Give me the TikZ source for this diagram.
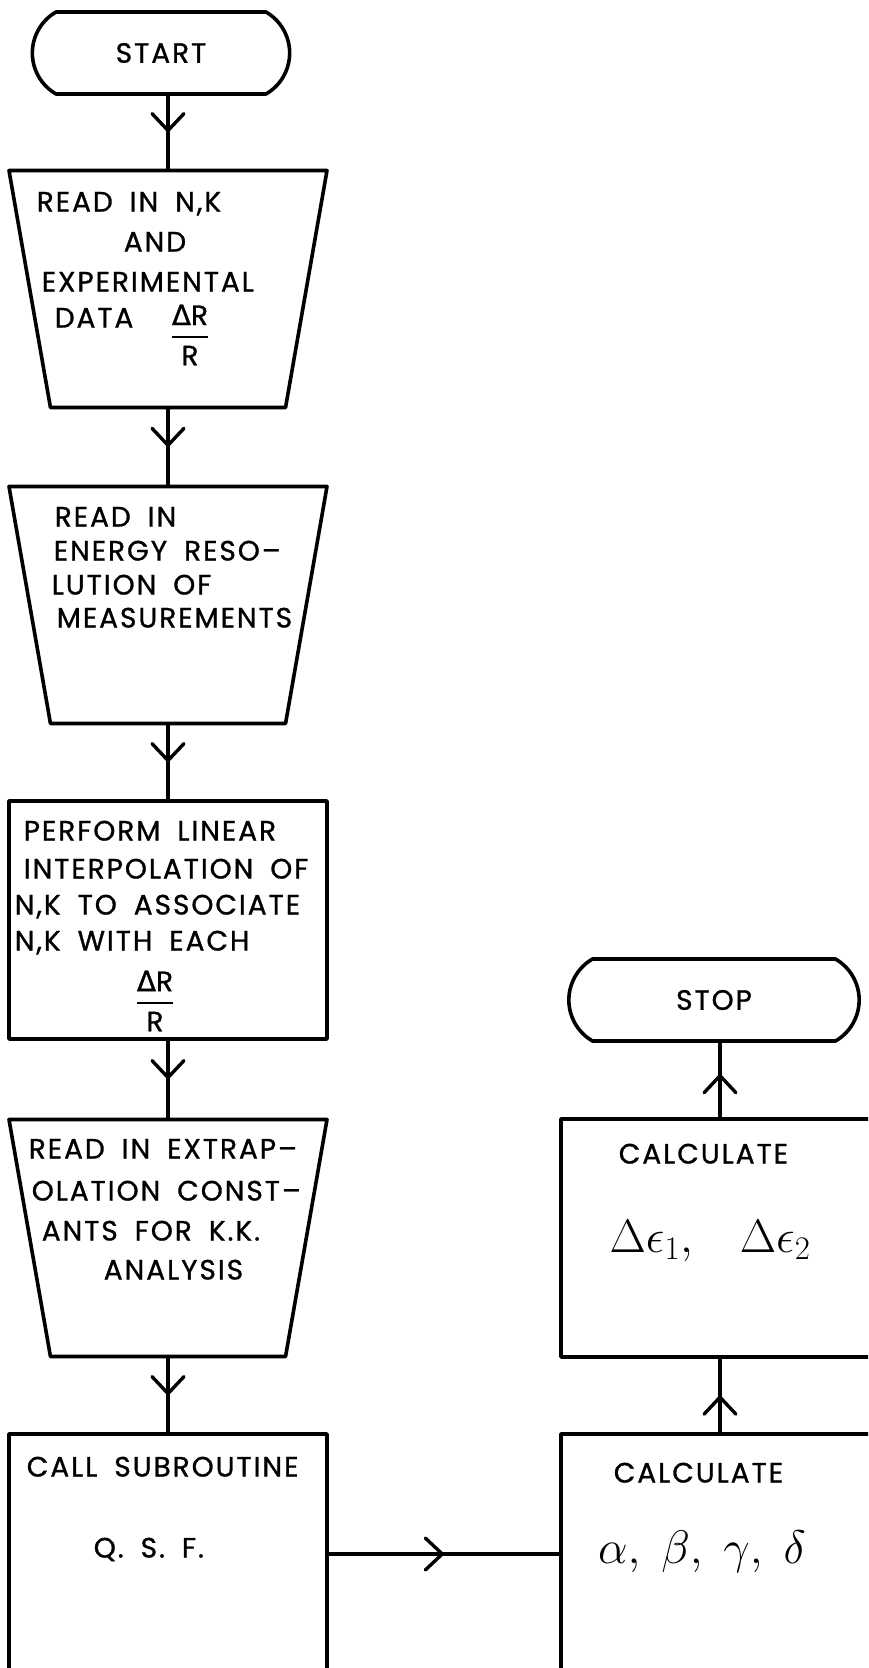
\RequirePackage{fix-cm}
\documentclass[tikz,border=0pt]{standalone}
\usepackage{amsmath}
\usepackage{fontspec}
\setmainfont{Poppins}
\newfontfamily\lettering[LetterSpace=7,WordSpace=1.8,FakeBold=1]{Poppins}
\newfontfamily\deltafont[FakeBold=1]{DejaVu Sans}
\usetikzlibrary{shapes.geometric,shapes.misc,decorations.markings,arrows.meta}
\newcommand{\fracdr}{\ensuremath{\genfrac{}{}{2.5pt}{0}{\mbox{\deltafont Δ\lettering R}}{\mbox{\lettering R}}}}
\begin{document}
\begin{tikzpicture}[x=1pt,y=-1pt,line width=3.6pt,line join=round,
    box/.style={draw,line width=3.6pt,rectangle,minimum width=318pt,minimum height=238pt,inner sep=0pt},
    trap/.style={draw,line width=3.6pt,trapezium,shape border rotate=180,trapezium left angle=80,trapezium right angle=80,
        trapezium stretches=true,minimum width=318pt,minimum height=237pt,inner sep=2pt},
    term/.style={draw,line width=3.6pt,rounded rectangle,rounded rectangle arc length=120,minimum height=82pt,
        font=\lettering\fontsize{28}{32}\selectfont},
    txt/.style={anchor=west,inner sep=0pt,text height=19pt,text depth=0pt,font=\lettering\fontsize{28}{32}\selectfont},
    greek/.style={inner sep=0pt,font=\fontsize{47}{52}\selectfont},
    flow/.style={line width=3.2pt,decoration={markings,mark=at position #1 with {\arrow{Straight Barb[length=17pt,width=32pt,line width=3.4pt,round]}}},
        postaction={decorate}},
    flow/.default=0.5]
    \path[use as bounding box] (0,0) rectangle (868,1668);
    \clip (0,0) rectangle (868,1668);
    \node[term,minimum width=264pt] (start) at (161,53) {START};
    \node[trap] (t1) at (168,289) {};
    \node[trap] (t2) at (168,605) {};
    \node[box] (r3) at (168,920) {};
    \node[trap] (t4) at (168,1238) {};
    \node[box,minimum height=240pt] (r5) at (168,1554) {};
    \node[box,minimum height=240pt] (r6) at (720,1554) {};
    \node[box] (r7) at (720,1238) {};
    \node[term,minimum width=297pt] (stop) at (714,1000) {STOP};
    \draw[flow] (start.south -| t1.north) -- (t1.north);
    \draw[flow] (t1.south) -- (t2.north);
    \draw[flow] (t2.south) -- (r3.north);
    \draw[flow] (r3.south) -- (t4.north);
    \draw[flow] (t4.south) -- (r5.north);
    \draw[flow] (r5.east) -- (r6.west);
    \draw[flow] (r6.north) -- (r7.south);
    \draw[flow=0.58] (r7.north) -- (r7.north |- stop.south);
    \foreach \x/\y/\t [count=\i] in {35/202/{READ IN N,K}, 122/242/AND, 40/282/EXPERIMENTAL, 53/318/DATA,
        53/517/{READ IN}, 52/551/{ENERGY RESO–}, 50/585/{LUTION OF}, 55/618/MEASUREMENTS,
        22/831/{PERFORM LINEAR}, 22/869/{INTERPOLATION OF}, 13/905/{N,K TO ASSOCIATE}, 13/941/{N,K WITH EACH},
        27/1149/{READ IN EXTRAP–}, 30/1191/{OLATION CONST–}, 40/1231/{ANTS FOR K.K.}, 102/1270/ANALYSIS,
        25/1467/{CALL SUBROUTINE}, 92/1548/{Q. S. F.}, 617/1154/CALCULATE, 612/1473/CALCULATE}
        \node[txt] (l\i) at (\x,\y) {\t};
    \node[inner sep=0pt,font=\lettering\fontsize{28}{32}\selectfont] (f1) at (190,335) {\fracdr};
    \node[inner sep=0pt,font=\lettering\fontsize{28}{32}\selectfont] (f3) at (155,1001) {\fracdr};
    \node[greek] (g7) at (710,1241) {$\Delta\epsilon_1,\;\;\; \Delta\epsilon_2$};
    \node[greek] (g6) at (702,1552) {$\alpha,\;\beta,\;\gamma,\;\delta$};
\end{tikzpicture}
\end{document}
